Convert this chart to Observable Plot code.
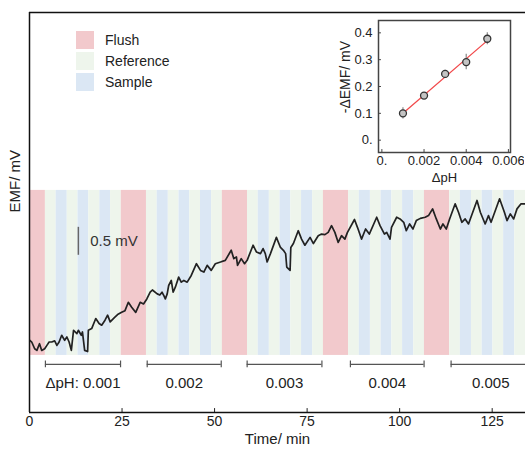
<!DOCTYPE html>
<html><head><meta charset="utf-8">
<script src="https://cdn.jsdelivr.net/npm/d3@7"></script>
<script src="https://cdn.jsdelivr.net/npm/@observablehq/plot@0.6"></script>
<style>
body{margin:0;background:#fff;font-family:"Liberation Sans",Arial,sans-serif;}
#wrap{position:relative;width:525px;height:451px;overflow:hidden;}
#inset{position:absolute;left:334px;top:0px;}
#legend{position:absolute;left:76px;top:31px;font-size:14px;color:#222;}
.row{display:flex;align-items:center;height:18px;margin-bottom:3px;}
.sw{width:18px;height:18px;margin-right:11px;}
</style></head><body><div id="wrap"><div id="main"></div><div id="inset"></div><div id="legend"></div></div>
<script>
// ---- data ----
const legendNames = ["Flush", "Reference", "Sample"];
const legendColors = ["#f2c9cc", "#eef5ec", "#dbe7f4"];
const typeCodes = {F: "Flush", R: "Reference", S: "Sample"};
const segStart = [0,4.3,7.2,10.2,13.1,16.0,19.0,21.9, 24.8,31.6,34.5,37.5,40.4,43.3,46.2,49.2,
  52.1,58.9,61.8,64.8,67.7,70.6,73.5,76.5, 79.4,86.2,89.1,92.1,95.0,97.9,100.8,103.8,
  106.7,113.5,116.4,119.4,122.3,125.2,128.1,131.1];
const segType = "FRSRSRSRFRSRSRSRFRSRSRSRFRSRSRSRFRSRSRSR";
const timeEnd = 134;

const traceT = [0.1,0.6,1.4,2.0,2.7,3.3,4.1,4.7,5.3,6.0,
  6.8,7.4,8.0,8.7,9.5,10.1,10.7,11.3,11.9,12.8,
  13.2,14.0,14.3,14.9,15.7,15.9,16.8,17.9,18.8,19.5,
  20.4,21.1,21.8,23.0,23.8,24.9,25.8,26.7,27.6,28.7,
  29.9,30.8,31.7,32.6,33.2,34.5,35.2,35.8,36.3,36.7,
  37.2,37.6,38.3,38.8,39.4,40.3,41.0,41.7,42.6,43.7,
  45.1,46.2,47.1,48.0,49.1,50.2,51.6,52.9,54.5,55.2,
  55.9,56.2,57.2,58.1,58.8,60.4,61.3,62.4,63.1,63.7,
  64.2,65.1,66.7,67.8,68.6,69.2,69.5,70.4,70.6,71.3,
  72.6,73.5,74.4,75.8,76.7,78.0,78.9,79.8,80.7,81.6,
  82.5,83.4,84.3,85.2,85.9,87.8,88.6,89.7,90.8,91.8,
  93.8,94.7,95.9,96.5,97.4,97.8,99.2,100.1,101.1,101.8,
  102.7,103.6,104.5,105.6,106.9,107.8,108.9,109.9,111.0,111.7,
  112.6,113.5,115.0,115.9,116.8,117.7,118.6,120.9,121.8,123.1,
  124.0,124.7,127.0,128.3,129.0,129.9,130.8,131.7,132.8,133.9];
const traceE = [0.18,0.15,0.03,0,0.12,0,0.03,0.09,0.15,0.15,
  0.17,0.09,0.15,0.27,0.18,0.24,0.15,0,0.36,0.30,
  0.36,0.27,0.33,0,-0.02,0.36,0.39,0.57,0.48,0.45,
  0.54,0.63,0.51,0.59,0.64,0.68,0.71,0.86,0.77,0.68,
  0.86,0.83,0.92,1.04,1.08,1.01,0.99,1.04,0.98,0.92,
  1.01,1.16,1.25,1.04,1.13,1.31,1.22,1.25,1.22,1.34,
  1.55,1.43,1.40,1.52,1.43,1.55,1.58,1.61,1.79,1.64,
  1.67,1.52,1.64,1.55,1.61,1.88,1.76,1.73,1.82,1.73,
  1.58,1.73,2.02,1.84,1.79,1.73,1.49,1.43,1.84,1.91,
  2.14,1.99,1.88,2.02,1.91,2.05,2.08,2.07,2.11,2.23,
  2.11,1.93,2.05,1.99,2.11,2.34,2.20,1.99,2.17,2.08,
  2.38,2.23,2.08,2.11,1.99,2.20,2.38,2.35,2.29,2.14,
  2.26,2.17,2.32,2.36,2.38,2.41,2.53,2.35,2.17,2.26,
  2.17,2.35,2.62,2.47,2.29,2.35,2.26,2.68,2.47,2.26,
  2.41,2.29,2.71,2.47,2.32,2.44,2.35,2.53,2.62,2.62];

const bracketStart = [4.3, 31.8, 58.8, 86.7, 113.9];
const bracketEnd = [24.6, 51.8, 79.0, 106.6, 135.3];
const bracketLabel = ["ΔpH: 0.001", "0.002", "0.003", "0.004", "0.005"];

const xTicks = [0, 25, 50, 75, 100, 125];
const scaleBarT = 13.2, scaleBarFrom = 1.70, scaleBarLen = 0.5;
const scaleBarLabel = "0.5 mV";

const insetPH = [0.001, 0.002, 0.003, 0.004, 0.005];
const insetEMF = [0.100, 0.166, 0.247, 0.291, 0.378];
const insetErr = [0.021, 0.012, 0.014, 0.029, 0.022];
const fitPH = [0.001, 0.005];
const fitEMF = [0.100, 0.371];
const insetXTicks = [0, 0.002, 0.004, 0.006];
const insetXLabels = ["0.", "0.002", "0.004", "0.006"];
const insetYTicks = [0, 0.1, 0.2, 0.3, 0.4];
const insetYLabels = ["0.", "0.1", "0.2", "0.3", "0.4"];

// ---- build ----
const FONT = '"Liberation Sans", Arial, sans-serif';
const segments = segStart.map((s, i) => ({
  start: s, end: i < segStart.length - 1 ? segStart[i + 1] : timeEnd, type: typeCodes[segType[i]]
}));
const trace = traceT.map((t, i) => ({t, e: traceE[i]}));
const brackets = bracketStart.map((s, i) => ({s, e: bracketEnd[i], label: bracketLabel[i], mid: (s + bracketEnd[i]) / 2}));

const yMin = -1.11, yMax = 6.04;
const bandLo = -0.09, bandHi = 2.86;
const brY = -0.25, brLabY = -0.59;

const main = Plot.plot({
  width: 525, height: 451,
  marginLeft: 29, marginRight: 0, marginTop: 12, marginBottom: 39,
  style: {fontFamily: FONT, fontSize: "14px", color: "#222", background: "transparent"},
  x: {domain: [0, timeEnd]},
  y: {domain: [yMin, yMax], axis: null},
  color: {domain: legendNames, range: legendColors},
  marks: [
    Plot.rect(segments, {x1: "start", x2: "end", y1: bandLo, y2: bandHi, fill: "type"}),
    Plot.line(trace, {x: "t", y: "e", stroke: "#222", strokeWidth: 1.7, strokeLinejoin: "round"}),
    Plot.ruleX([scaleBarT], {y1: scaleBarFrom, y2: scaleBarFrom + scaleBarLen, stroke: "#666", strokeWidth: 1.5}),
    Plot.text([scaleBarLabel], {x: scaleBarT + 3.2, y: scaleBarFrom + scaleBarLen / 2, textAnchor: "start", fontSize: 15, fill: "#333"}),
    Plot.ruleY(brackets, {x1: "s", x2: "e", y: brY, stroke: "#555", strokeWidth: 1.2}),
    Plot.ruleX(brackets.flatMap(b => [b.s, b.e]), {y1: brY - 0.06, y2: brY + 0.06, stroke: "#555", strokeWidth: 1.2}),
    Plot.text(brackets, {x: "mid", y: brLabY, text: "label", fontSize: 15, fill: "#222"}),
    Plot.axisX({ticks: xTicks, tickSize: 0, tickPadding: 4, fontSize: 14, label: null}),
    Plot.ruleX(xTicks, {y1: yMin, y2: yMin + 0.07, stroke: "#222"}),
    Plot.ruleY([yMin, yMax], {stroke: "#111", strokeWidth: 1.5}),
    Plot.ruleX([0], {stroke: "#111", strokeWidth: 1.5}),
    Plot.text(["EMF/ mV"], {frameAnchor: "left", rotate: -90, dx: -14, fontSize: 15, fill: "#222"}),
    Plot.text(["Time/ min"], {frameAnchor: "bottom", dy: 31, fontSize: 15, fill: "#222"})
  ]
});
document.getElementById("main").appendChild(main);

const pts = insetPH.map((x, i) => ({x, v: insetEMF[i], err: insetErr[i]}));
const fit = fitPH.map((x, i) => ({x, v: fitEMF[i]}));
const ix0 = -0.00016, ix1 = 0.0061, iy0 = -0.046, iy1 = 0.446;
const pxPerX = 132 / (ix1 - ix0);
const inset = Plot.plot({
  width: 190, height: 194,
  marginLeft: 44, marginRight: 14, marginTop: 20, marginBottom: 42,
  style: {fontFamily: FONT, fontSize: "13px", color: "#222", background: "transparent"},
  x: {domain: [ix0, ix1]},
  y: {domain: [iy0, iy1]},
  marks: [
    Plot.ruleX(pts, {x: "x", y1: d => d.v - d.err, y2: d => d.v + d.err, stroke: "#888", strokeWidth: 1.2}),
    Plot.line(fit, {x: "x", y: "v", stroke: "#f2494b", strokeWidth: 1.3}),
    Plot.dot(pts, {x: "x", y: "v", r: 3.5, stroke: "#333", fill: "#c4c4c4", strokeWidth: 1.3}),
    Plot.frame({stroke: "#444", strokeWidth: 1.5}),
    Plot.ruleX(insetXTicks, {y1: iy0, y2: iy0 + 0.011, stroke: "#444"}),
    Plot.ruleY(insetYTicks, {x1: ix0, x2: ix0 + 0.00014, stroke: "#444"}),
    Plot.axisX({ticks: insetXTicks, tickFormat: d => insetXLabels[insetXTicks.indexOf(d)], tickSize: 0, tickPadding: 3, label: null}),
    Plot.axisY({ticks: insetYTicks, tickFormat: d => insetYLabels[insetYTicks.indexOf(d)], tickSize: 0, tickPadding: 6, label: null}),
    Plot.text(["ΔpH"], {frameAnchor: "bottom", dy: 29, fontSize: 13, fill: "#222"}),
    Plot.text(["-ΔEMF/ mV"], {x: ix0 - 33 / pxPerX, y: 0.235, rotate: -90, fontSize: 14, fill: "#222"})
  ]
});
document.getElementById("inset").appendChild(inset);

const legend = document.getElementById("legend");
legendNames.forEach((n, i) => {
  const row = document.createElement("div");
  row.className = "row";
  const sw = document.createElement("div");
  sw.className = "sw";
  sw.style.background = legendColors[i];
  const tx = document.createElement("span");
  tx.textContent = n;
  row.appendChild(sw); row.appendChild(tx);
  legend.appendChild(row);
});
</script></body></html>
